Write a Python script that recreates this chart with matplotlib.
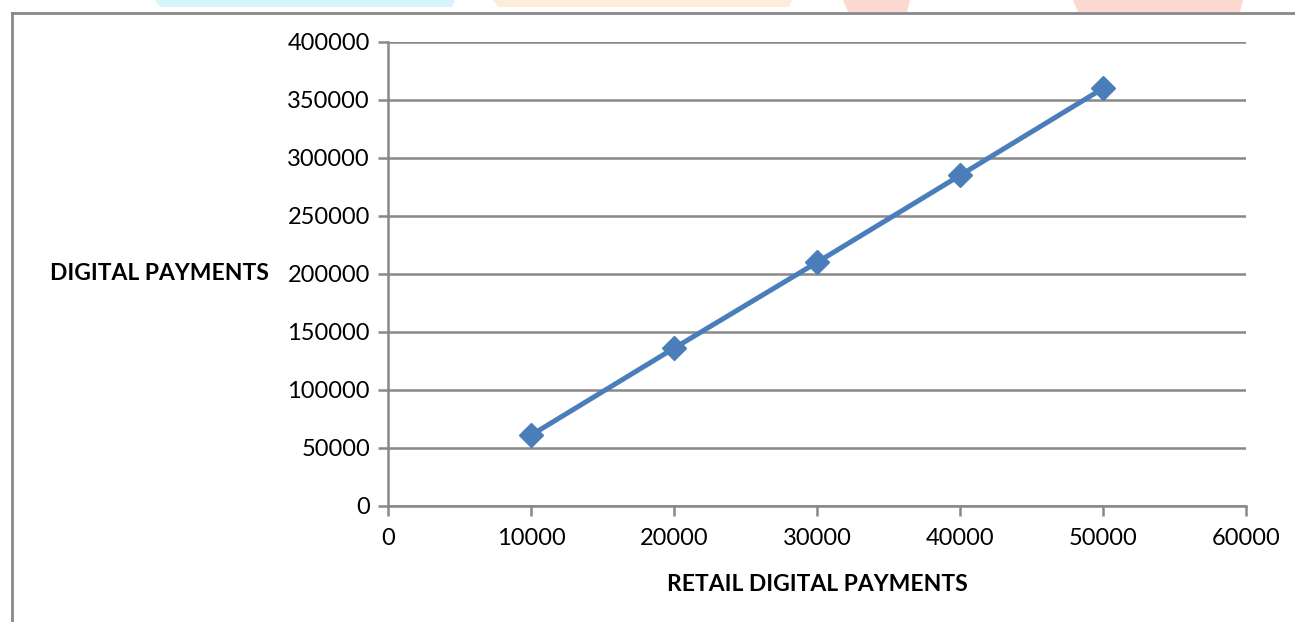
import matplotlib.pyplot as plt
from matplotlib.patches import Polygon
from matplotlib.lines import Line2D

retail = [10000, 20000, 30000, 40000, 50000]
digital = [61000, 136000, 210000, 285000, 360000]
x_ticks = [0, 10000, 20000, 30000, 40000, 50000, 60000]
y_ticks = [0, 50000, 100000, 150000, 200000, 250000, 300000, 350000, 400000]

plt.rcParams["font.family"] = ["Lato", "DejaVu Sans"]

W, H = 1295, 622
fig = plt.figure(figsize=(W / 100, H / 100), dpi=100)

# faint watermark shapes peeking in at the top edge
def blob(x0, x1, y1, color):
    pts = [(x0 / W, 1), (x1 / W, 1), ((x1 - 3) / W, 1 - y1 / H), ((x0 + 5) / W, 1 - y1 / H)]
    fig.patches.append(Polygon(pts, closed=True, transform=fig.transFigure,
                               facecolor=color, edgecolor="none", zorder=0))

blob(155, 455, 7, "#d6f6fb")
blob(493, 792, 7, "#fdebdc")
blob(843, 910, 12, "#fcd9d0")
blob(1073, 1243, 12, "#fcd9d0")

# outer chart frame (top and left edges visible)
fig.lines.append(Line2D([12 / W, 1], [1 - 13 / H, 1 - 13 / H], transform=fig.transFigure,
                        color="#888888", lw=2))
fig.lines.append(Line2D([12 / W, 12 / W], [0, 1 - 13 / H], transform=fig.transFigure,
                        color="#888888", lw=2))

ax = fig.add_axes([388 / W, 1 - 506 / H, (1246 - 388) / W, (506 - 42) / H])

ax.plot(retail, digital, color="#4a7ebb", lw=3.6, marker="D", markersize=12.5,
        markeredgecolor="#4a7ebb", zorder=3)

ax.set_xlim(0, 60000)
ax.set_ylim(0, 400000)
ax.set_xticks(x_ticks)
ax.set_yticks(y_ticks)
ax.set_xticklabels([str(v) for v in x_ticks])
ax.set_yticklabels([str(v) for v in y_ticks])

ax.grid(axis="y", color="#888888", lw=1.8)
ax.set_axisbelow(True)
for side in ["top", "right"]:
    ax.spines[side].set_visible(False)
for side in ["left", "bottom"]:
    ax.spines[side].set_color("#888888")
    ax.spines[side].set_linewidth(1.8)

ax.tick_params(axis="both", colors="#888888", width=1.8, length=7, labelsize=17,
               labelcolor="black")
ax.tick_params(axis="x", pad=9)
ax.tick_params(axis="y", pad=6)

ax.set_xlabel("RETAIL DIGITAL PAYMENTS", fontsize=16.5, fontweight="bold", labelpad=18)
ax.set_ylabel("DIGITAL PAYMENTS", fontsize=16.5, fontweight="bold", rotation=0,
              ha="right", va="center")
ax.yaxis.set_label_coords(-0.139, 0.5)

fig.savefig("out.png", dpi=100)
